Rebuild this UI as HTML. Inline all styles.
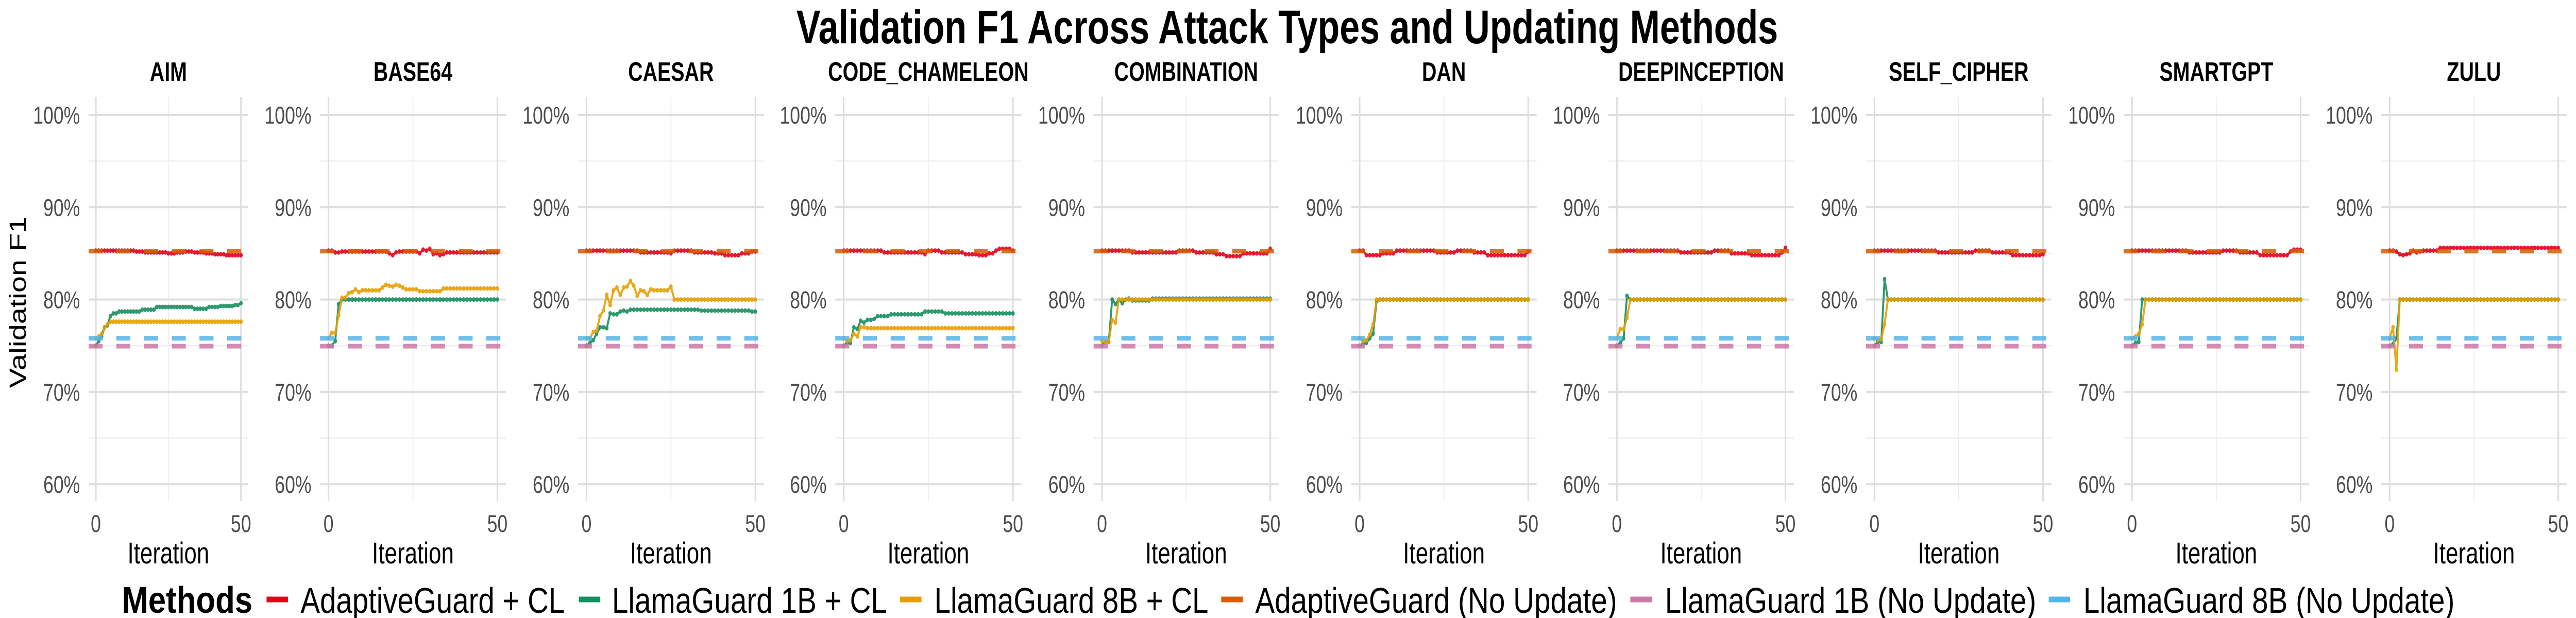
<!DOCTYPE html>
<html><head><meta charset="utf-8"><style>
html,body{margin:0;padding:0;background:#fff;overflow:hidden;width:100%;height:100%;}
svg{display:block;font-family:"Liberation Sans",Arial,sans-serif;width:100vw;height:100vh;}
</style></head><body>
<svg id="chart" xmlns="http://www.w3.org/2000/svg" viewBox="0 0 6600 1200" preserveAspectRatio="none">
<rect x="0" y="0" width="6600" height="1200" fill="#ffffff"/>
<text x="3298" y="84" text-anchor="middle" font-size="92" font-weight="bold" textLength="2515" lengthAdjust="spacingAndGlyphs">Validation F1 Across Attack Types and Updating Methods</text>
<text transform="translate(66,587) rotate(-90)" text-anchor="middle" font-size="60" textLength="333" lengthAdjust="spacingAndGlyphs">Validation F1</text>
<g id="panels"></g>
<g id="legend"></g>
</svg>
<script>
const panelNames = ["AIM","BASE64","CAESAR","CODE_CHAMELEON","COMBINATION","DAN","DEEPINCEPTION","SELF_CIPHER","SMARTGPT","ZULU"];
const iterations = [0,1,2,3,4,5,6,7,8,9,10,11,12,13,14,15,16,17,18,19,20,21,22,23,24,25,26,27,28,29,30,31,32,33,34,35,36,37,38,39,40,41,42,43,44,45,46,47,48,49,50];
const yTicks = [60,70,80,90,100];
const yMinorTicks = [65,75,85,95];
const xTicks = [0,50];
const xMinorTicks = [25];
const adaptiveNoUpdate = [85.25,85.25,85.25,85.25,85.25,85.25,85.25,85.25,85.25,85.25];
const llama1bNoUpdate = [74.95,74.95,74.95,74.95,74.95,74.95,74.95,74.95,74.95,74.95];
const llama8bNoUpdate = [75.8,75.8,75.8,75.8,75.8,75.8,75.8,75.8,75.8,75.8];
const adaptiveCL = [
 [85.3,85.3,85.3,85.3,85.3,85.3,85.3,85.3,85.3,85.3,85.3,85.3,85.3,85.3,85.2,85.2,85.2,85.1,85.1,85.1,85.1,85.1,85.1,85.1,85.1,85.0,85.0,85.0,85.1,85.1,85.1,85.2,85.2,85.2,85.1,85.1,85.1,85.1,85.0,85.0,85.0,84.9,84.9,84.9,84.9,84.8,84.8,84.8,84.8,84.8,84.8],
 [85.3,85.3,85.1,85.1,85.2,85.2,85.2,85.2,85.2,85.2,85.2,85.2,85.2,85.2,85.2,85.2,85.2,85.2,85.0,84.8,85.1,85.2,85.2,85.2,85.2,85.2,85.2,85.0,85.4,85.3,85.5,84.9,85.0,84.8,84.9,85.1,85.1,85.1,85.1,85.1,85.1,85.1,85.1,85.1,85.1,85.1,85.1,85.1,85.1,85.1,85.1],
 [85.3,85.3,85.3,85.3,85.3,85.3,85.3,85.3,85.3,85.3,85.3,85.3,85.3,85.3,85.3,85.3,85.1,85.1,85.1,85.1,85.1,85.1,85.1,85.1,85.1,85.0,85.3,85.3,85.3,85.3,85.3,85.3,85.1,85.1,85.1,85.1,85.1,85.1,85.0,85.0,85.0,84.8,84.8,84.8,84.8,84.8,85.0,85.0,85.0,85.2,85.2],
 [85.3,85.3,85.3,85.3,85.3,85.3,85.3,85.3,85.3,85.3,85.3,85.3,85.1,85.1,85.1,85.1,85.1,85.1,85.1,85.1,85.1,85.1,85.1,85.1,84.9,85.3,85.3,85.3,85.3,85.1,85.1,85.1,85.1,85.1,85.1,85.1,84.9,84.9,84.9,84.9,84.8,84.8,84.8,85.0,85.0,85.3,85.5,85.5,85.5,85.5,85.3],
 [85.3,85.3,85.3,85.3,85.3,85.3,85.3,85.3,85.3,85.1,85.1,85.1,85.1,85.1,85.1,85.1,85.1,85.1,85.1,85.1,85.1,85.1,85.1,85.3,85.3,85.3,85.3,85.3,85.1,85.1,85.1,85.1,85.1,85.1,84.9,84.9,84.9,84.7,84.7,84.7,84.7,84.7,85.0,85.0,85.0,85.0,85.0,85.0,85.0,85.0,85.5],
 [85.3,85.3,84.8,84.8,84.8,84.8,84.8,85.0,85.0,85.0,85.0,85.3,85.3,85.3,85.3,85.3,85.3,85.3,85.3,85.3,85.3,85.3,85.3,85.1,85.1,85.1,85.1,85.1,85.1,85.3,85.3,85.3,85.3,85.3,85.1,85.1,85.1,85.1,84.8,84.8,84.8,84.8,84.8,84.8,84.8,84.8,84.8,84.8,84.8,84.8,85.2],
 [85.3,85.3,85.3,85.3,85.3,85.3,85.3,85.3,85.3,85.3,85.3,85.3,85.3,85.3,85.3,85.3,85.3,85.3,85.3,85.1,85.1,85.1,85.1,85.1,85.1,85.1,85.1,85.1,85.1,85.3,85.3,85.3,85.3,85.3,85.0,85.0,85.0,85.0,85.0,85.0,84.8,84.8,84.8,84.8,84.8,84.8,84.8,84.8,84.8,85.1,85.6],
 [85.3,85.3,85.3,85.3,85.3,85.3,85.3,85.3,85.3,85.3,85.3,85.3,85.3,85.3,85.3,85.3,85.3,85.3,85.3,85.1,85.1,85.1,85.1,85.1,85.1,85.1,85.1,85.1,85.1,85.1,85.3,85.3,85.3,85.3,85.3,85.1,85.1,85.1,85.1,85.1,85.1,84.8,84.8,84.8,84.8,84.8,84.8,84.8,84.8,84.8,84.9],
 [85.3,85.3,85.3,85.3,85.3,85.3,85.3,85.3,85.3,85.3,85.3,85.3,85.3,85.3,85.3,85.3,85.3,85.1,85.1,85.1,85.1,85.1,85.1,85.1,85.1,85.1,85.1,85.3,85.3,85.3,85.3,85.3,85.1,85.1,85.1,85.1,85.1,85.1,84.8,84.8,84.8,84.8,84.8,84.8,84.8,84.8,84.8,85.2,85.4,85.4,85.4],
 [85.3,85.3,85.2,84.9,84.8,84.9,85.0,85.3,85.1,85.2,85.3,85.3,85.3,85.3,85.3,85.6,85.6,85.6,85.6,85.6,85.6,85.6,85.6,85.6,85.6,85.6,85.6,85.6,85.6,85.6,85.6,85.6,85.6,85.6,85.6,85.6,85.6,85.6,85.6,85.6,85.6,85.6,85.6,85.6,85.6,85.6,85.6,85.6,85.6,85.6,85.6]
];
const llama1bCL = [
 [75.0,75.5,76.0,77.0,77.2,78.2,78.5,78.5,78.7,78.7,78.7,78.7,78.7,78.7,78.7,78.7,78.9,78.9,78.9,78.9,78.9,79.2,79.2,79.2,79.2,79.2,79.2,79.2,79.2,79.2,79.2,79.2,79.2,79.2,79.0,79.0,79.0,79.0,79.0,79.2,79.2,79.2,79.2,79.3,79.3,79.3,79.3,79.3,79.4,79.4,79.6],
 [75.0,75.0,75.5,79.5,80.0,80.0,80.0,80.0,80.0,80.0,80.0,80.0,80.0,80.0,80.0,80.0,80.0,80.0,80.0,80.0,80.0,80.0,80.0,80.0,80.0,80.0,80.0,80.0,80.0,80.0,80.0,80.0,80.0,80.0,80.0,80.0,80.0,80.0,80.0,80.0,80.0,80.0,80.0,80.0,80.0,80.0,80.0,80.0,80.0,80.0,80.0],
 [75.0,75.3,75.6,76.3,77.0,77.0,76.9,78.5,78.4,78.4,78.7,78.8,78.7,78.9,78.9,78.9,78.9,78.9,78.9,78.9,78.9,78.9,78.9,78.9,78.9,78.9,78.9,78.9,78.9,78.9,78.9,78.9,78.9,78.9,78.8,78.8,78.8,78.8,78.8,78.8,78.8,78.8,78.8,78.8,78.8,78.8,78.8,78.8,78.8,78.7,78.7],
 [75.0,75.3,75.3,77.0,76.8,77.7,77.5,77.8,77.8,77.9,78.2,78.2,78.2,78.2,78.4,78.4,78.4,78.4,78.4,78.4,78.4,78.4,78.4,78.4,78.7,78.7,78.7,78.7,78.7,78.7,78.5,78.5,78.5,78.5,78.5,78.5,78.5,78.5,78.5,78.5,78.5,78.5,78.5,78.5,78.5,78.5,78.5,78.5,78.5,78.5,78.5],
 [75.0,75.4,75.4,80.0,79.5,80.0,79.6,80.0,80.1,79.9,79.9,79.9,79.9,79.9,79.9,80.1,80.1,80.1,80.1,80.1,80.1,80.1,80.1,80.1,80.1,80.1,80.1,80.1,80.1,80.1,80.1,80.1,80.1,80.1,80.1,80.1,80.1,80.1,80.1,80.1,80.1,80.1,80.1,80.1,80.1,80.1,80.1,80.1,80.1,80.1,80.1],
 [75.0,75.2,75.3,75.8,76.3,79.8,80.0,80.0,80.0,80.0,80.0,80.0,80.0,80.0,80.0,80.0,80.0,80.0,80.0,80.0,80.0,80.0,80.0,80.0,80.0,80.0,80.0,80.0,80.0,80.0,80.0,80.0,80.0,80.0,80.0,80.0,80.0,80.0,80.0,80.0,80.0,80.0,80.0,80.0,80.0,80.0,80.0,80.0,80.0,80.0,80.0],
 [75.0,75.3,75.8,80.4,80.0,80.0,80.0,80.0,80.0,80.0,80.0,80.0,80.0,80.0,80.0,80.0,80.0,80.0,80.0,80.0,80.0,80.0,80.0,80.0,80.0,80.0,80.0,80.0,80.0,80.0,80.0,80.0,80.0,80.0,80.0,80.0,80.0,80.0,80.0,80.0,80.0,80.0,80.0,80.0,80.0,80.0,80.0,80.0,80.0,80.0,80.0],
 [75.0,75.4,75.4,82.2,80.0,80.0,80.0,80.0,80.0,80.0,80.0,80.0,80.0,80.0,80.0,80.0,80.0,80.0,80.0,80.0,80.0,80.0,80.0,80.0,80.0,80.0,80.0,80.0,80.0,80.0,80.0,80.0,80.0,80.0,80.0,80.0,80.0,80.0,80.0,80.0,80.0,80.0,80.0,80.0,80.0,80.0,80.0,80.0,80.0,80.0,80.0],
 [75.0,75.3,75.4,80.0,80.0,80.0,80.0,80.0,80.0,80.0,80.0,80.0,80.0,80.0,80.0,80.0,80.0,80.0,80.0,80.0,80.0,80.0,80.0,80.0,80.0,80.0,80.0,80.0,80.0,80.0,80.0,80.0,80.0,80.0,80.0,80.0,80.0,80.0,80.0,80.0,80.0,80.0,80.0,80.0,80.0,80.0,80.0,80.0,80.0,80.0,80.0],
 [75.0,75.2,75.8,80.0,80.0,80.0,80.0,80.0,80.0,80.0,80.0,80.0,80.0,80.0,80.0,80.0,80.0,80.0,80.0,80.0,80.0,80.0,80.0,80.0,80.0,80.0,80.0,80.0,80.0,80.0,80.0,80.0,80.0,80.0,80.0,80.0,80.0,80.0,80.0,80.0,80.0,80.0,80.0,80.0,80.0,80.0,80.0,80.0,80.0,80.0,80.0]
];
const llama8bCL = [
 [75.8,76.0,76.3,77.0,77.3,77.6,77.6,77.6,77.6,77.6,77.6,77.6,77.6,77.6,77.6,77.6,77.6,77.6,77.6,77.6,77.6,77.6,77.6,77.6,77.6,77.6,77.6,77.6,77.6,77.6,77.6,77.6,77.6,77.6,77.6,77.6,77.6,77.6,77.6,77.6,77.6,77.6,77.6,77.6,77.6,77.6,77.6,77.6,77.6,77.6,77.6],
 [75.8,76.4,76.4,78.3,80.2,80.2,80.7,80.8,81.1,80.8,81.0,81.0,81.0,81.0,81.0,81.0,81.3,81.6,81.5,81.4,81.6,81.5,81.3,81.1,81.1,81.1,81.1,80.9,80.9,80.9,80.9,80.9,80.9,80.9,81.2,81.2,81.2,81.2,81.2,81.2,81.2,81.2,81.2,81.2,81.2,81.2,81.2,81.2,81.2,81.2,81.2],
 [75.8,75.8,76.5,76.6,78.2,78.8,80.5,79.4,81.0,81.3,80.5,81.3,81.4,82.0,81.5,80.4,81.0,80.9,80.5,81.1,81.0,81.0,81.0,81.0,81.0,81.4,80.0,80.0,80.0,80.0,80.0,80.0,80.0,80.0,80.0,80.0,80.0,80.0,80.0,80.0,80.0,80.0,80.0,80.0,80.0,80.0,80.0,80.0,80.0,80.0,80.0],
 [75.8,75.5,75.6,76.3,76.0,77.0,77.0,76.9,76.9,76.9,76.9,76.9,76.9,76.9,76.9,76.9,76.9,76.9,76.9,76.9,76.9,76.9,76.9,76.9,76.9,76.9,76.9,76.9,76.9,76.9,76.9,76.9,76.9,76.9,76.9,76.9,76.9,76.9,76.9,76.9,76.9,76.9,76.9,76.9,76.9,76.9,76.9,76.9,76.9,76.9,76.9],
 [75.5,75.4,75.4,77.8,77.5,80.0,80.0,80.0,80.0,80.0,80.0,80.0,80.0,80.0,80.0,80.0,80.0,80.0,80.0,80.0,80.0,80.0,80.0,80.0,80.0,80.0,80.0,80.0,80.0,80.0,80.0,80.0,80.0,80.0,80.0,80.0,80.0,80.0,80.0,80.0,80.0,80.0,80.0,80.0,80.0,80.0,80.0,80.0,80.0,80.0,80.0],
 [75.8,75.5,75.6,76.2,77.3,80.0,80.0,80.0,80.0,80.0,80.0,80.0,80.0,80.0,80.0,80.0,80.0,80.0,80.0,80.0,80.0,80.0,80.0,80.0,80.0,80.0,80.0,80.0,80.0,80.0,80.0,80.0,80.0,80.0,80.0,80.0,80.0,80.0,80.0,80.0,80.0,80.0,80.0,80.0,80.0,80.0,80.0,80.0,80.0,80.0,80.0],
 [75.8,76.8,76.8,78.0,80.0,80.0,80.0,80.0,80.0,80.0,80.0,80.0,80.0,80.0,80.0,80.0,80.0,80.0,80.0,80.0,80.0,80.0,80.0,80.0,80.0,80.0,80.0,80.0,80.0,80.0,80.0,80.0,80.0,80.0,80.0,80.0,80.0,80.0,80.0,80.0,80.0,80.0,80.0,80.0,80.0,80.0,80.0,80.0,80.0,80.0,80.0],
 [75.8,75.6,75.7,77.3,80.0,80.0,80.0,80.0,80.0,80.0,80.0,80.0,80.0,80.0,80.0,80.0,80.0,80.0,80.0,80.0,80.0,80.0,80.0,80.0,80.0,80.0,80.0,80.0,80.0,80.0,80.0,80.0,80.0,80.0,80.0,80.0,80.0,80.0,80.0,80.0,80.0,80.0,80.0,80.0,80.0,80.0,80.0,80.0,80.0,80.0,80.0],
 [75.8,76.0,76.3,77.3,80.0,80.0,80.0,80.0,80.0,80.0,80.0,80.0,80.0,80.0,80.0,80.0,80.0,80.0,80.0,80.0,80.0,80.0,80.0,80.0,80.0,80.0,80.0,80.0,80.0,80.0,80.0,80.0,80.0,80.0,80.0,80.0,80.0,80.0,80.0,80.0,80.0,80.0,80.0,80.0,80.0,80.0,80.0,80.0,80.0,80.0,80.0],
 [75.8,77.0,72.4,80.0,80.0,80.0,80.0,80.0,80.0,80.0,80.0,80.0,80.0,80.0,80.0,80.0,80.0,80.0,80.0,80.0,80.0,80.0,80.0,80.0,80.0,80.0,80.0,80.0,80.0,80.0,80.0,80.0,80.0,80.0,80.0,80.0,80.0,80.0,80.0,80.0,80.0,80.0,80.0,80.0,80.0,80.0,80.0,80.0,80.0,80.0,80.0]
];
const legendLabels = ["AdaptiveGuard + CL","LlamaGuard 1B + CL","LlamaGuard 8B + CL","AdaptiveGuard (No Update)","LlamaGuard 1B (No Update)","LlamaGuard 8B (No Update)"];

// layout (not data)
const NS = "http://www.w3.org/2000/svg";
const panelLefts = [227,820,1481,2140,2802,3462,4121,4781,5441,6101];
const panelRights = [636,1296,1957,2617,3276,3937,4596,5256,5916,6576];
const PTOP = 188, PBOT = 973;
const Y100 = 223, PXPERPCT = 17.93;
const COL = {red:"#E2001A", green:"#178F5F", orange:"#E69F00", adapt:"#D55E00", pink:"#CC79A7", blue:"#56B4E9"};
const legendKeyX = [683,1483,2306,3129,4177,5249];
const legendTextX = [770,1568,2394,3216,4266,5338];
const legendTextW = [677,705,702,927,951,951];
const legendColors = [COL.red,COL.green,COL.orange,COL.adapt,COL.pink,COL.blue];

function mk(tag, attrs, parent){ const e=document.createElementNS(NS,tag); for(const k in attrs) e.setAttribute(k,attrs[k]); if(parent) parent.appendChild(e); return e; }
function yScale(v){ return Y100 + (100 - v) * PXPERPCT; }
function xScaleFor(p){ const l=panelLefts[p], r=panelRights[p]; const x0=l+(r-l)*2.5/55, x50=l+(r-l)*52.5/55; return i => x0 + i*(x50-x0)/50; }

const root = document.getElementById("panels");
panelNames.forEach((name,p)=>{
  const g = mk("g",{},root);
  
  
  const L=panelLefts[p], R=panelRights[p], xs=xScaleFor(p);
  yMinorTicks.forEach(t=>{ mk("line",{x1:L,x2:R,y1:yScale(t),y2:yScale(t),stroke:"#efefef","stroke-width":2.5},g); });
  xMinorTicks.forEach(t=>{ mk("line",{x1:xs(t),x2:xs(t),y1:PTOP,y2:PBOT,stroke:"#efefef","stroke-width":2.5},g); });
  yTicks.forEach(t=>{ mk("line",{x1:L,x2:R,y1:yScale(t),y2:yScale(t),stroke:"#dedede","stroke-width":4},g); });
  xTicks.forEach(t=>{ mk("line",{x1:xs(t),x2:xs(t),y1:PTOP,y2:PBOT,stroke:"#dedede","stroke-width":4},g); });
  yTicks.forEach(t=>{
    const tx = mk("text",{x:L-22,y:yScale(t)+17,"text-anchor":"end","font-size":47,fill:"#4d4d4d"},g);
    
    
    tx.textContent = t + "%";
  });
  xTicks.forEach(t=>{
    const tx = mk("text",{x:xs(t),y:1033,"text-anchor":"middle","font-size":47,fill:"#4d4d4d"},g);
    
    
    tx.textContent = String(t);
  });
  const xt = mk("text",{x:(L+R)/2,y:1094,"text-anchor":"middle","font-size":58,fill:"#000"},g);
  
  
  xt.textContent = "Iteration";
  const st = mk("text",{x:(L+R)/2,y:157,"text-anchor":"middle","font-size":52,"font-weight":"bold",fill:"#000"},g);
  
  
  st.textContent = name;
  const series = [[adaptiveCL[p],COL.red,'adaptiveguard-cl-line'],[llama1bCL[p],COL.green,'llamaguard-1b-cl-line'],[llama8bCL[p],COL.orange,'llamaguard-8b-cl-line']];
  series.forEach(([vals,c,nm])=>{
    const sg = mk("g",{opacity:0.9},g);
    
    
    const pts = vals.map((v,i)=>xs(iterations[i]).toFixed(1)+","+yScale(v).toFixed(1)).join(" ");
    mk("polyline",{points:pts,fill:"none",stroke:c,"stroke-width":5,"stroke-linejoin":"round"},sg);
    vals.forEach((v,i)=>{
      const d = mk("circle",{cx:xs(iterations[i]),cy:yScale(v),r:4.5,fill:c},sg);
      
      
    });
  });
  const refs = [[adaptiveNoUpdate[p],COL.adapt,'adaptiveguard-no-update-line'],[llama1bNoUpdate[p],COL.pink,'llamaguard-1b-no-update-line'],[llama8bNoUpdate[p],COL.blue,'llamaguard-8b-no-update-line']];
  refs.forEach(([v,c,nm])=>{
    const ln = mk("line",{x1:L,x2:R,y1:yScale(v),y2:yScale(v),stroke:c,"stroke-width":9,"stroke-dasharray":"36 35",opacity:0.85},g);
    
    
  });
});

const lg = document.getElementById("legend");
const lt = mk("text",{x:312,y:1190,"font-size":72,"font-weight":"bold",fill:"#000",textLength:335,lengthAdjust:"spacingAndGlyphs"},lg);


lt.textContent = "Methods";
legendLabels.forEach((lab,k)=>{
  const eg = mk("g",{},lg);
  
  
  mk("line",{x1:legendKeyX[k],x2:legendKeyX[k]+55,y1:1164,y2:1164,stroke:legendColors[k],"stroke-width":11},eg);
  const t = mk("text",{x:legendTextX[k],y:1190,"font-size":70,fill:"#000",textLength:legendTextW[k],lengthAdjust:"spacingAndGlyphs"},eg);
  t.textContent = lab;
});
</script>
</body></html>
